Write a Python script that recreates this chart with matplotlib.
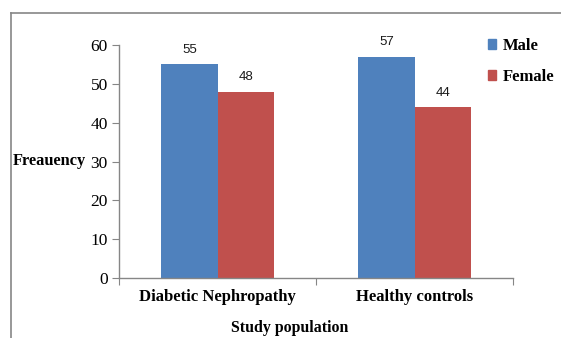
import matplotlib
matplotlib.use("Agg")
import matplotlib.pyplot as plt
from matplotlib.lines import Line2D
from matplotlib.patches import Patch

categories = ["Diabetic Nephropathy", "Healthy controls"]
male = [55, 57]
female = [48, 44]
yticks = [0, 10, 20, 30, 40, 50, 60]

BLUE = "#4F81BD"
RED = "#C0504D"
GRAY = "#868686"
SERIF = "Liberation Serif"

fig = plt.figure(figsize=(5.61, 3.38), dpi=100)
ax = fig.add_axes([119 / 561, 1 - 278 / 338, (513 - 119) / 561, (278 - 45) / 338])

x = list(range(len(categories)))
w = 0.286
bm = ax.bar([i - w / 2 for i in x], male, width=w, color=BLUE, label="Male")
bf = ax.bar([i + w / 2 for i in x], female, width=w, color=RED, label="Female")

for bars, vals in ((bm, male), (bf, female)):
    for b, v in zip(bars, vals):
        ax.annotate(str(v), (b.get_x() + b.get_width() / 2, v),
                    xytext=(0, 10.5), textcoords="offset points",
                    ha="center", va="center", fontsize=9.5,
                    family="Liberation Sans", color="#1a1a1a")

ax.set_xlim(-0.5, len(categories) - 0.5)
ax.set_ylim(0, 60)
ax.set_yticks(yticks)
ax.set_yticklabels([str(t) for t in yticks], family=SERIF, fontsize=12.5)

# category boundary ticks on the x axis
ax.set_xticks([-0.5, 0.5, 1.5])
ax.set_xticklabels([])
ax.set_xticks(x, minor=True)
ax.set_xticklabels(categories, minor=True, family=SERIF, fontsize=12,
                   fontweight="bold")
ax.tick_params(axis="x", which="minor", length=0, pad=8)
ax.tick_params(axis="x", which="major", length=5, color=GRAY, direction="out")
ax.tick_params(axis="y", length=5, color=GRAY, direction="out", pad=3)

for s in ("top", "right"):
    ax.spines[s].set_visible(False)
for s in ("left", "bottom"):
    ax.spines[s].set_color(GRAY)
    ax.spines[s].set_linewidth(1.0)

fig.text(13 / 561, 1 - 161 / 338, "Freauency", family=SERIF, fontsize=11.8,
         fontweight="bold", ha="left", va="center")
fig.text(290 / 561, 1 - 328 / 338, "Study population", family=SERIF,
         fontsize=11.4, fontweight="bold", ha="center", va="center")

handles = [Patch(color=BLUE), Patch(color=RED)]
leg = fig.legend(handles, ["Male", "Female"], loc="upper left",
                 bbox_to_anchor=(488 / 561, 1 - 38 / 338), frameon=False,
                 prop={"family": SERIF, "size": 12, "weight": "bold"},
                 handlelength=0.5, handleheight=0.5, handletextpad=0.4,
                 labelspacing=0.9, borderaxespad=0, borderpad=0)

# outer frame lines
fig.add_artist(Line2D([11 / 561, 1], [1 - 13 / 338] * 2, color=GRAY, lw=1.2,
                      transform=fig.transFigure))
fig.add_artist(Line2D([11 / 561] * 2, [0, 1 - 13 / 338], color=GRAY, lw=1.2,
                      transform=fig.transFigure))

fig.savefig("out.png", dpi=100)
